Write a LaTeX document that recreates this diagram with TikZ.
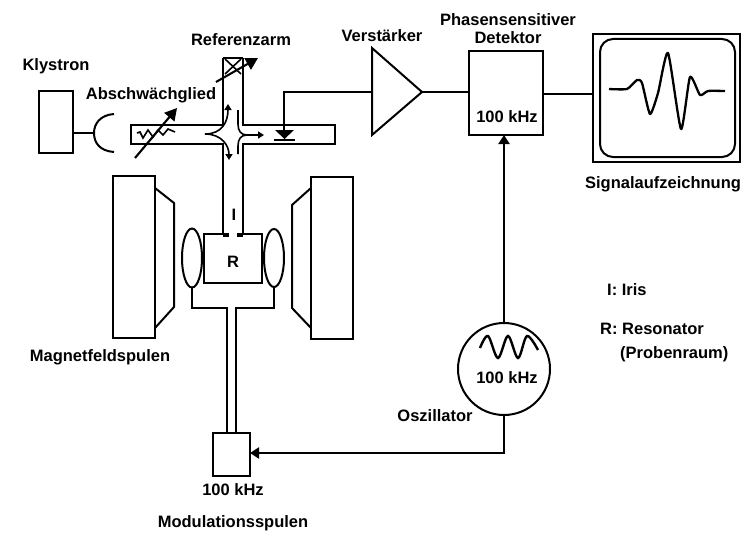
\documentclass[tikz,border=0pt]{standalone}
\usepackage{fontspec}
\setmainfont{Liberation Sans}
\usetikzlibrary{arrows.meta,shapes.geometric}
\tikzset{
 ln/.style={draw=black,line width=2pt,line join=miter},
 wire/.style={draw=black,line width=2.1pt},
 thin wire/.style={draw=black,line width=1.6pt},
 boxn/.style={ln,rectangle,inner sep=0pt,outer sep=0pt},
 lab/.style={font=\bfseries\fontsize{16.5}{18}\selectfont,inner sep=0pt,align=center,text=black},
 labl/.style={lab,align=left,anchor=west},
 tipa/.style={-{Triangle[length=9pt,width=11pt]}},
 tipb/.style={-{Triangle[length=6pt,width=7pt]}},
 tipc/.style={-{Triangle[length=12pt,width=13pt]}}
}
\begin{document}
\begin{tikzpicture}[x=1pt,y=-1pt]
\useasboundingbox (0,0) rectangle (752,535);
% Labels
\node[lab] (tkly) at (56,66) {Klystron};
\node[lab] (tabs) at (151,95) {Abschwächglied};
\node[lab] (tref) at (241,40) {Referenzarm};
\node[lab] (tver) at (382,36) {Verstärker};
\node[lab] (tpha) at (508,29) {Phasensensitiver\\Detektor};
\node[lab] (tsig) at (663,184) {Signalaufzeichnung};
\node[lab] (tmag) at (100,357) {Magnetfeldspulen};
\node[lab] (tmod) at (233,523) {Modulationsspulen};
\node[lab] (tmodf) at (233,490) {100 kHz};
\node[lab] (tosz) at (435,416) {Oszillator};
\node[lab] (toscf) at (507,378) {100 kHz};
\node[lab] (tdetf) at (507,117) {100 kHz};
\node[labl] (tiris) at (607,290) {I: Iris};
\node[labl] (tres) at (600,329) {R: Resonator};
\node[labl] (tpro) at (620,354) {(Probenraum)};
\node[lab] (tI) at (234,215) {I};
% Klystron and horn
\node[boxn,minimum width=34pt,minimum height=62pt] (kly) at (56,122) {};
\coordinate (hornl) at (94,133);
\draw[wire] (kly.east |- hornl) -- (hornl);
\draw[ln] (114,114) .. controls (100,115) and (94,124) .. (hornl) .. controls (94,143) and (100,151) .. (114,152);
% Waveguide
\draw[ln] (223,58) -- (223,125) -- (131,125) -- (131,144) -- (223,144) -- (223,234);
\draw[ln] (243,58) -- (243,125) -- (335,125) -- (335,144) -- (243,144) -- (243,234);
% Reference arm end
\draw[ln] (223,58) -- (243,58);
\draw[thin wire] (225,59) -- (241,74) (241,59) -- (225,74);
\draw[wire,tipc] (216,82) -- (258,58);
% Junction arrows
\draw[thin wire,tipb] (205,134) .. controls (222,134) and (228,122) .. (228,104);
\draw[thin wire,tipb] (205,134) .. controls (222,134) and (229,146) .. (229,160);
\draw[thin wire] (238,110) -- (238,124) .. controls (238,131) and (241,135) .. (247,135);
\draw[thin wire,tipb] (247,135) -- (264,135);
\draw[thin wire] (247,135) .. controls (241,135) and (238,139) .. (238,146) -- (238,154);
% Attenuator
\draw[thin wire] plot coordinates {(137,133) (140,132) (143,138) (148,130) (153,137) (158,130) (163,135) (168,129) (175,132)};
\draw[wire,tipc] (135,158) -- (177,108);
% Diode
\coordinate (dtop) at (284,92);
\coordinate (dtip) at (284,130);
\draw[wire] (dtip) -- (dtop) -- (dtop -| 372,0);
\fill (275,130) -- (294,130) -- (284.5,139) -- cycle;
\draw[wire] (274,140) -- (295,140);
% Amplifier
\coordinate (ampin) at (372,92);
\coordinate (ampout) at (422,92);
\draw[ln] (372,48) -- (ampout) -- (372,135) -- cycle;
% Detector
\node[boxn,minimum width=74pt,minimum height=84pt] (det) at (506,93) {};
\draw[wire] (ampout) -- (ampout -| det.west);
% Recorder
\node[boxn,minimum width=147pt,minimum height=128pt] (scr) at (666.5,98) {};
\node[boxn,rounded corners=13pt,minimum width=135pt,minimum height=118pt] (scri) at (667.5,98) {};
\draw[wire] (det.east |- 0,94) -- (scr.west |- 0,94);
\draw[line width=2.3pt,line join=round] plot[smooth,tension=0.35] coordinates {(609,89) (627,89) (637,80) (642,83) (650,114) (658,93) (668,53) (681,129) (690,77) (700,95) (708,91) (725,91)};
% Oscillator
\node[ln,circle,inner sep=0pt,outer sep=0pt,minimum size=92pt] (osc) at (504,369) {};
\draw[line width=2.4pt] plot[smooth,tension=0.55] coordinates {(480,348) (488,336) (498,358) (508,336) (518,358) (527,336) (538,350)};
\draw[wire,tipa] (osc.north) -- (osc.north |- det.south);
% Resonator
\node[font=\bfseries\fontsize{16.5}{18}\selectfont,inner sep=0pt] (R) at (233,262) {R};
\coordinate (rtl) at (204,234);
\coordinate (rbr) at (262,283);
\draw[ln] (229,234) -- (rtl) |- (rbr) |- (237,234);
\draw[ln] (223,236) -- (229,236) (237,236) -- (243,236);
% Magnets
\node[boxn,minimum width=42pt,minimum height=162pt] (magl) at (134,257) {};
\draw[ln] (magl.east |- 0,188) -- (174,203) -- (174,307) -- (magl.east |- 0,328);
\node[boxn,minimum width=42pt,minimum height=162pt] (magr) at (332,258) {};
\draw[ln] (magr.west |- 0,188) -- (292,205) -- (292,308) -- (magr.west |- 0,328);
% Modulation coils
\node[ln,ellipse,inner sep=0pt,outer sep=0pt,minimum width=20pt,minimum height=59pt] (ell) at (192,258) {};
\node[ln,ellipse,inner sep=0pt,outer sep=0pt,minimum width=20pt,minimum height=58pt] (elr) at (274,258) {};
\node[boxn,minimum width=37pt,minimum height=43pt] (mod) at (231.5,454.5) {};
\coordinate (jl) at (227,308);
\coordinate (jr) at (236,308);
\draw[ln] (ell.south) |- (jl) -- (jl |- mod.north);
\draw[ln] (elr.south) |- (jr) -- (jr |- mod.north);
% Oscillator to modulation
\coordinate (mody) at (503,453);
\draw[wire,tipa] (osc.south) |- (mod.east |- mody);
\end{tikzpicture}
\end{document}
